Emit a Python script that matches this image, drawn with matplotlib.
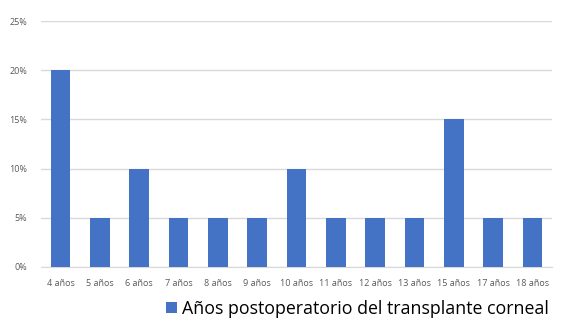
import matplotlib.pyplot as plt
from matplotlib.ticker import FuncFormatter

categories = ["4 años", "5 años", "6 años", "7 años", "8 años", "9 años", "10 años",
              "11 años", "12 años", "13 años", "15 años", "17 años", "18 años"]
values = [20, 5, 10, 5, 5, 5, 10, 5, 5, 5, 15, 5, 5]
label = "Años postoperatorio del transplante corneal"

plt.rcParams["font.family"] = ["Open Sans", "DejaVu Sans"]

fig = plt.figure(figsize=(5.71, 3.30), dpi=100)
ax = fig.add_axes([0.0718, 0.191, 0.8952, 0.745])

x = range(len(categories))
ax.bar(x, values, width=0.5, color="#4472C4", label=label, zorder=3)

ax.set_xlim(-0.5, len(categories) - 0.5)
ax.set_ylim(0, 25)
ax.set_yticks([0, 5, 10, 15, 20, 25])
ax.yaxis.set_major_formatter(FuncFormatter(lambda v, p: f"{int(v)}%"))
ax.set_xticks(list(x))
ax.set_xticklabels(categories)
ax.grid(axis="y", color="#D9D9D9", linewidth=1, zorder=0)
for s in ["top", "right", "left"]:
    ax.spines[s].set_visible(False)
ax.spines["bottom"].set_color("#D9D9D9")
ax.tick_params(axis="both", length=0, labelsize=6.5, colors="#595959")
ax.tick_params(axis="x", pad=9)
ax.tick_params(axis="y", pad=10)

fig.legend(loc="lower right", bbox_to_anchor=(0.99, -0.012), frameon=False,
           fontsize=12.8, handlelength=0.6, handleheight=0.6, handletextpad=0.3,
           labelcolor="#000000")

fig.savefig("out.png", dpi=100)
